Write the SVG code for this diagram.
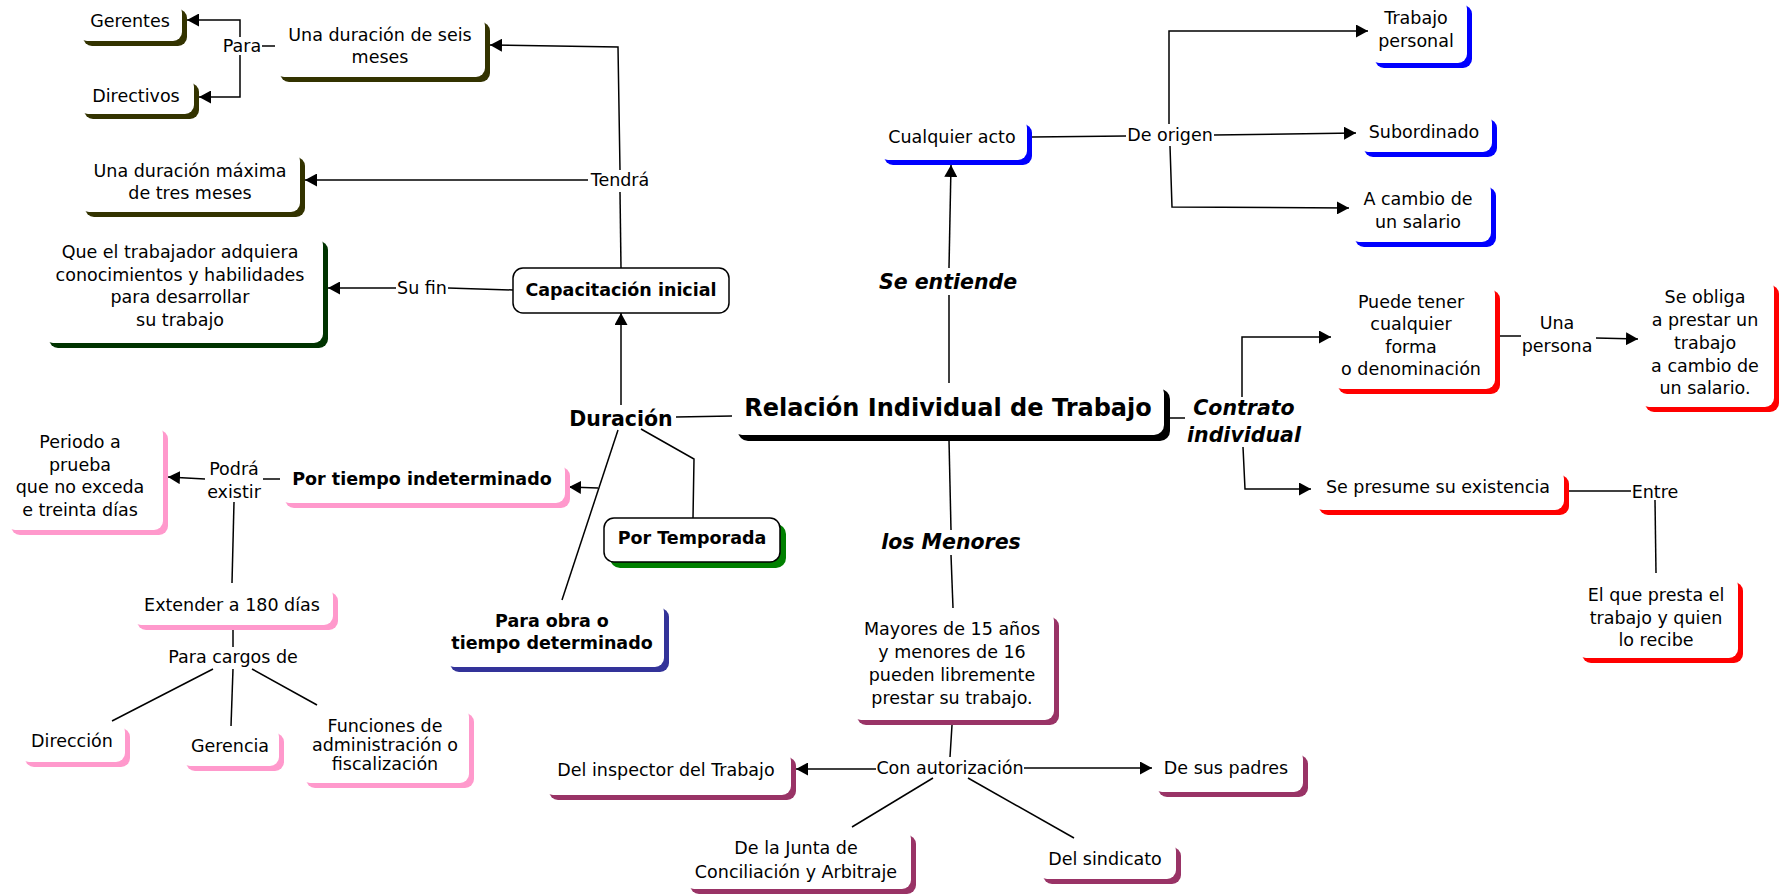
<svg xmlns="http://www.w3.org/2000/svg" width="1781" height="896" viewBox="0 0 1781 896">
<defs>
<style>
text{font-family:"DejaVu Sans",Verdana,sans-serif;font-size:17.5px;fill:#000;text-anchor:middle}
.b{font-weight:bold}
.bi{font-weight:bold;font-style:italic;font-size:20.5px}
.big{font-weight:bold;font-size:24px}
.dur{font-weight:bold;font-size:20.5px}
.w{fill:#fff}
.k{fill:#fff;stroke:#000;stroke-width:1.5}
#conn line,#conn polyline{stroke:#000;stroke-width:1.5;fill:none}
.ol{fill:#333300}.dg{fill:#003300}.bl{fill:#0000ff}.rd{fill:#ff0000}.pk{fill:#ff99cc}.nv{fill:#333399}.pu{fill:#993366}.gr{fill:#008000}.bk{fill:#000}
</style>
<marker id="ar" viewBox="0 0 12 13" refX="12" refY="6.5" markerWidth="12" markerHeight="13" markerUnits="userSpaceOnUse" orient="auto">
<path d="M0,0 L12,6.5 L0,13 z" fill="#000"/>
</marker>
</defs>
<rect width="1781" height="896" fill="#fff"/>
<g id="conn">
<line x1="262" y1="46" x2="277" y2="46"/>
<polyline points="240,37 240,20 187,20" marker-end="url(#ar)"/>
<polyline points="240,55 240,97 199,97" marker-end="url(#ar)"/>
<polyline points="620,170 618,47 490,45" marker-end="url(#ar)"/>
<line x1="621" y1="268" x2="620" y2="192"/>
<line x1="588" y1="180" x2="305" y2="180" marker-end="url(#ar)"/>
<line x1="513" y1="290" x2="448" y2="288"/>
<line x1="396" y1="288" x2="328" y2="288" marker-end="url(#ar)"/>
<line x1="621" y1="405" x2="621" y2="313" marker-end="url(#ar)"/>
<line x1="676" y1="417" x2="732" y2="416"/>
<line x1="618" y1="430" x2="562" y2="600"/>
<line x1="598" y1="488" x2="569" y2="487" marker-end="url(#ar)"/>
<polyline points="641,429 694,459 693,518"/>
<line x1="949" y1="383" x2="949" y2="295"/>
<line x1="949" y1="268" x2="951" y2="165" marker-end="url(#ar)"/>
<line x1="1032" y1="137" x2="1126" y2="136"/>
<line x1="1214" y1="135" x2="1356" y2="133" marker-end="url(#ar)"/>
<polyline points="1169,124 1169,31 1368,31" marker-end="url(#ar)"/>
<polyline points="1170,146 1172,207 1349,208" marker-end="url(#ar)"/>
<line x1="1169" y1="418" x2="1185" y2="418"/>
<polyline points="1242,397 1242,337 1331,337" marker-end="url(#ar)"/>
<polyline points="1243,447 1245,489 1311,489" marker-end="url(#ar)"/>
<line x1="1500" y1="336" x2="1521" y2="336"/>
<line x1="1596" y1="338" x2="1638" y2="339" marker-end="url(#ar)"/>
<line x1="1569" y1="491" x2="1631" y2="491"/>
<line x1="1655" y1="500" x2="1656" y2="573"/>
<line x1="949" y1="440" x2="951" y2="530"/>
<line x1="951" y1="555" x2="953" y2="608"/>
<line x1="263" y1="479" x2="280" y2="479"/>
<line x1="205" y1="479" x2="168" y2="477" marker-end="url(#ar)"/>
<line x1="234" y1="502" x2="232" y2="583"/>
<line x1="233" y1="630" x2="233" y2="647"/>
<line x1="213" y1="669" x2="112" y2="721"/>
<line x1="233" y1="669" x2="231" y2="726"/>
<line x1="252" y1="669" x2="317" y2="705"/>
<line x1="952" y1="725" x2="950" y2="757"/>
<line x1="876" y1="769" x2="796" y2="769" marker-end="url(#ar)"/>
<line x1="1024" y1="768" x2="1152" y2="768" marker-end="url(#ar)"/>
<line x1="933" y1="778" x2="852" y2="827"/>
<line x1="968" y1="778" x2="1074" y2="838"/>
</g>
<g id="labels">
<text x="242" y="52">Para</text>
<text x="620" y="186">Tendrá</text>
<text x="422" y="294">Su fin</text>
<text class="bi" x="948" y="289">Se entiende</text>
<text x="1170" y="141">De origen</text>
<text class="bi" x="1244" y="415">Contrato</text>
<text class="bi" x="1244" y="442">individual</text>
<text x="1557" y="329">Una</text>
<text x="1557" y="352">persona</text>
<text x="1655" y="498">Entre</text>
<text class="dur" x="621" y="426">Duración</text>
<text class="bi" x="951" y="549">los Menores</text>
<text x="234" y="475">Podrá</text>
<text x="234" y="498">existir</text>
<text x="233" y="663">Para cargos de</text>
<text x="950" y="774">Con autorización</text>
</g>
<g id="n-gerentes"><rect class="ol" x="83" y="9" width="104" height="37" rx="9"/><rect class="w" x="78" y="4" width="104" height="37" rx="9"/><text x="130" y="27">Gerentes</text></g>
<g id="n-directivos"><rect class="ol" x="84" y="83" width="115" height="36" rx="9"/><rect class="w" x="79" y="78" width="115" height="36" rx="9"/><text x="136" y="102">Directivos</text></g>
<g id="n-seis"><rect class="ol" x="280" y="22" width="210" height="60" rx="9"/><rect class="w" x="275" y="17" width="210" height="60" rx="9"/><text x="380" y="41">Una duración de seis</text><text x="380" y="63">meses</text></g>
<g id="n-maxima"><rect class="ol" x="85" y="157" width="220" height="60" rx="9"/><rect class="w" x="80" y="152" width="220" height="60" rx="9"/><text x="190" y="177">Una duración máxima</text><text x="190" y="199">de tres meses</text></g>
<g id="n-fin"><rect class="dg" x="49" y="241" width="279" height="107" rx="9"/><rect class="w" x="44" y="236" width="279" height="107" rx="9"/><text x="180" y="258">Que el trabajador adquiera</text><text x="180" y="281">conocimientos y habilidades</text><text x="180" y="303">para desarrollar</text><text x="180" y="326">su trabajo</text></g>
<g id="n-capacitacion"><rect class="k" x="513" y="268" width="216" height="45" rx="10"/><text class="b" x="621" y="296">Capacitación inicial</text></g>
<g id="n-cualquier"><rect class="bl" x="884" y="124" width="148" height="41" rx="9"/><rect class="w" x="879" y="119" width="148" height="41" rx="9"/><text x="952" y="143">Cualquier acto</text></g>
<g id="n-personal"><rect class="bl" x="1375" y="5" width="97" height="63" rx="9"/><rect class="w" x="1370" y="0" width="97" height="63" rx="9"/><text x="1416" y="24">Trabajo</text><text x="1416" y="47">personal</text></g>
<g id="n-subordinado"><rect class="bl" x="1364" y="119" width="133" height="38" rx="9"/><rect class="w" x="1359" y="114" width="133" height="38" rx="9"/><text x="1424" y="138">Subordinado</text></g>
<g id="n-cambio"><rect class="bl" x="1355" y="187" width="141" height="60" rx="9"/><rect class="w" x="1350" y="182" width="141" height="60" rx="9"/><text x="1418" y="205">A cambio de</text><text x="1418" y="228">un salario</text></g>
<g id="n-puede"><rect class="rd" x="1338" y="290" width="162" height="104" rx="9"/><rect class="w" x="1333" y="285" width="162" height="104" rx="9"/><text x="1411" y="308">Puede tener</text><text x="1411" y="330">cualquier</text><text x="1411" y="353">forma</text><text x="1411" y="375">o denominación</text></g>
<g id="n-obliga"><rect class="rd" x="1645" y="285" width="134" height="127" rx="9"/><rect class="w" x="1640" y="280" width="134" height="127" rx="9"/><text x="1705" y="303">Se obliga</text><text x="1705" y="326">a prestar un</text><text x="1705" y="349">trabajo</text><text x="1705" y="372">a cambio de</text><text x="1705" y="394">un salario.</text></g>
<g id="n-presume"><rect class="rd" x="1319" y="475" width="250" height="40" rx="9"/><rect class="w" x="1314" y="470" width="250" height="40" rx="9"/><text x="1438" y="493">Se presume su existencia</text></g>
<g id="n-elque"><rect class="rd" x="1582" y="582" width="161" height="81" rx="9"/><rect class="w" x="1577" y="577" width="161" height="81" rx="9"/><text x="1656" y="601">El que presta el</text><text x="1656" y="624">trabajo y quien</text><text x="1656" y="646">lo recibe</text></g>
<g id="n-relacion"><rect class="bk" x="738" y="389" width="432" height="52" rx="10"/><rect class="w" x="732" y="383" width="432" height="52" rx="10"/><text class="big" x="948" y="416">Relación Individual de Trabajo</text></g>
<g id="n-indeterminado"><rect class="pk" x="285" y="467" width="285" height="41" rx="9"/><rect class="w" x="280" y="462" width="285" height="41" rx="9"/><text class="b" x="422" y="485">Por tiempo indeterminado</text></g>
<g id="n-temporada"><rect class="gr" x="610" y="524" width="176" height="44" rx="10"/><rect class="k" x="604" y="518" width="176" height="44" rx="10"/><text class="b" x="692" y="544">Por Temporada</text></g>
<g id="n-paraobra"><rect class="nv" x="450" y="608" width="219" height="64" rx="9"/><rect class="w" x="445" y="603" width="219" height="64" rx="9"/><text class="b" x="552" y="627">Para obra o</text><text class="b" x="552" y="649">tiempo determinado</text></g>
<g id="n-periodo"><rect class="pk" x="11" y="430" width="157" height="105" rx="9"/><rect class="w" x="6" y="425" width="157" height="105" rx="9"/><text x="80" y="448">Periodo a</text><text x="80" y="471">prueba</text><text x="80" y="493">que no exceda</text><text x="80" y="516">e treinta días</text></g>
<g id="n-extender"><rect class="pk" x="137" y="592" width="201" height="38" rx="9"/><rect class="w" x="132" y="587" width="201" height="38" rx="9"/><text x="232" y="611">Extender a 180 días</text></g>
<g id="n-direccion"><rect class="pk" x="25" y="728" width="105" height="39" rx="9"/><rect class="w" x="20" y="723" width="105" height="39" rx="9"/><text x="72" y="747">Dirección</text></g>
<g id="n-gerencia"><rect class="pk" x="186" y="733" width="98" height="38" rx="9"/><rect class="w" x="181" y="728" width="98" height="38" rx="9"/><text x="230" y="752">Gerencia</text></g>
<g id="n-funciones"><rect class="pk" x="306" y="713" width="168" height="75" rx="9"/><rect class="w" x="301" y="708" width="168" height="75" rx="9"/><text x="385" y="732">Funciones de</text><text x="385" y="751">administración o</text><text x="385" y="770">fiscalización</text></g>
<g id="n-mayores"><rect class="pu" x="857" y="617" width="202" height="108" rx="9"/><rect class="w" x="852" y="612" width="202" height="108" rx="9"/><text x="952" y="635">Mayores de 15 años</text><text x="952" y="658">y menores de 16</text><text x="952" y="681">pueden libremente</text><text x="952" y="704">prestar su trabajo.</text></g>
<g id="n-inspector"><rect class="pu" x="549" y="757" width="247" height="43" rx="9"/><rect class="w" x="544" y="752" width="247" height="43" rx="9"/><text x="666" y="776">Del inspector del Trabajo</text></g>
<g id="n-padres"><rect class="pu" x="1158" y="755" width="150" height="42" rx="9"/><rect class="w" x="1153" y="750" width="150" height="42" rx="9"/><text x="1226" y="774">De sus padres</text></g>
<g id="n-junta"><rect class="pu" x="690" y="835" width="226" height="59" rx="9"/><rect class="w" x="685" y="830" width="226" height="59" rx="9"/><text x="796" y="854">De la Junta de</text><text x="796" y="878">Conciliación y Arbitraje</text></g>
<g id="n-sindicato"><rect class="pu" x="1043" y="847" width="138" height="37" rx="9"/><rect class="w" x="1038" y="842" width="138" height="37" rx="9"/><text x="1105" y="865">Del sindicato</text></g>
</svg>
